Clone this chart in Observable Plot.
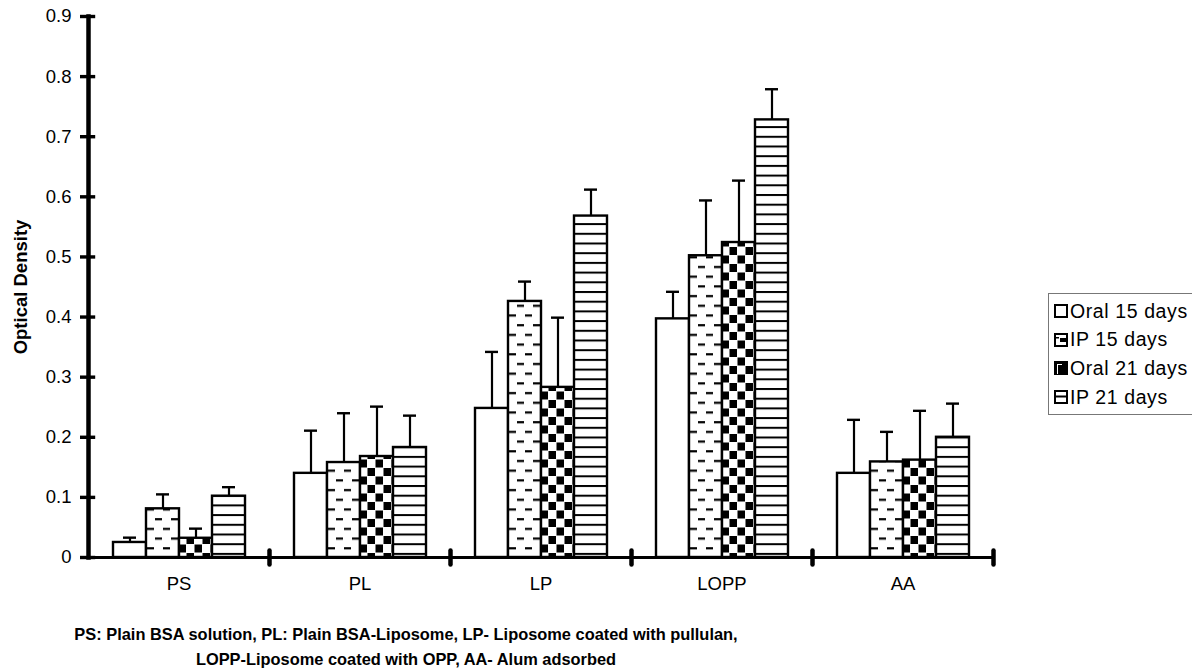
<!DOCTYPE html>
<html>
<head>
<meta charset="utf-8">
<script src="https://cdn.jsdelivr.net/npm/d3@7"></script>
<script src="https://cdn.jsdelivr.net/npm/@observablehq/plot@0.6"></script>
<style>
  body { margin: 0; background: #fff; font-family: "Liberation Sans", Arial, sans-serif; }
  #wrap { position: relative; width: 1192px; height: 671px; overflow: hidden; }
  #legend { position: absolute; left: 1048px; top: 293px; width: 220px; height: 122px; border: 1px solid #777; box-sizing: border-box; font-size: 19.5px; letter-spacing: 0.6px; }
  .item { position: absolute; left: 5px; height: 18px; display: flex; align-items: center; white-space: nowrap; }
  .item svg { margin-right: 2px; }
  #caption { position: absolute; left: 0; top: 622px; width: 812px; text-align: center; font-weight: bold; font-size: 16.4px; line-height: 25px; }
</style>
</head>
<body>
<div id="wrap">
  <div id="chart"></div>
  <div id="legend"></div>
  <div id="caption">PS: Plain BSA solution, PL: Plain BSA-Liposome, LP- Liposome coated with pullulan,<br>LOPP-Liposome coated with OPP, AA- Alum adsorbed</div>
</div>
<script>
// ---- data ----
const groups = ["PS", "PL", "LP", "LOPP", "AA"];
const series = ["Oral 15 days", "IP 15 days", "Oral 21 days", "IP 21 days"];
const oral15 = [0.025, 0.140, 0.248, 0.397, 0.140];
const ip15   = [0.081, 0.158, 0.426, 0.502, 0.159];
const oral21 = [0.032, 0.168, 0.283, 0.524, 0.162];
const ip21   = [0.102, 0.183, 0.568, 0.728, 0.200];
const oral15Err = [0.008, 0.071, 0.094, 0.045, 0.089];
const ip15Err   = [0.024, 0.082, 0.033, 0.092, 0.050];
const oral21Err = [0.016, 0.083, 0.116, 0.103, 0.082];
const ip21Err   = [0.015, 0.053, 0.044, 0.051, 0.056];
const yTicks = [0, 0.1, 0.2, 0.3, 0.4, 0.5, 0.6, 0.7, 0.8, 0.9];
const yLabel = "Optical Density";

const values = [oral15, ip15, oral21, ip21];
const errs = [oral15Err, ip15Err, oral21Err, ip21Err];
const fills = ["white", "url(#pDash)", "url(#pCheck)", "url(#pLines)"];

const data = [];
groups.forEach((g, i) => series.forEach((s, j) => {
  data.push({group: g, series: s, value: values[j][i], upper: values[j][i] + errs[j][i], fill: fills[j]});
}));

const vline = {draw(ctx) { ctx.moveTo(0, -7); ctx.lineTo(0, 7); }};

const font = '"Liberation Sans", Arial, sans-serif';
const W = 1192, mL = 86, mR = 197;
const facetWidth = (W - mL - mR) / groups.length;

const chart = Plot.plot({
  width: W,
  height: 600,
  marginLeft: mL,
  marginRight: mR,
  marginTop: 16,
  marginBottom: 43,
  style: {fontFamily: font, fontSize: "18.5px", color: "black", background: "white"},
  fx: {domain: groups, padding: 0},
  x: {domain: series, paddingInner: 0, paddingOuter: 0.73, axis: null},
  y: {domain: [0, 0.9]},
  color: {type: "identity"},
  marks: [
    Plot.barY(data, {fx: "group", x: "series", y: "value", fill: "fill", stroke: "black", strokeWidth: 2.4}),
    Plot.ruleX(data, {fx: "group", x: "series", y1: "value", y2: "upper", stroke: "black", strokeWidth: 2.2}),
    Plot.tickY(data, {fx: "group", x: "series", y: "upper", stroke: "black", strokeWidth: 2.4, insetLeft: 10, insetRight: 10}),
    Plot.ruleY([0], {stroke: "black", strokeWidth: 3.2}),
    Plot.dot([0], {frameAnchor: "bottom-right", symbol: vline, stroke: "black", fill: "none", strokeWidth: 4.5, strokeLinecap: "round"}),
    Plot.frame({anchor: "left", facetAnchor: "left", stroke: "black", strokeWidth: 4.5}),
    // crossing y ticks, drawn in the first facet only
    Plot.ruleY(yTicks, {y: d => d, fx: () => groups[0], insetLeft: -8, insetRight: facetWidth - 8, stroke: "black", strokeWidth: 3.4}),
    Plot.axisY({ticks: yTicks, tickSize: 0, tickPadding: 17, tickFormat: d => String(+d.toFixed(1)), fontSize: 18.5,
      label: yLabel, labelArrow: "none", labelAnchor: "center", labelOffset: 75}),
    Plot.axisFx({anchor: "bottom", tickSize: 0, tickPadding: 19, label: null, fontSize: 18.5})
  ]
});

d3.select(chart).insert("defs", ":first-child").html(`
  <pattern id="pDash" patternUnits="userSpaceOnUse" width="16" height="19.4">
    <rect width="16" height="19.4" fill="white"/>
    <rect x="1" y="4" width="7" height="2.2" fill="black"/>
    <rect x="9" y="13.7" width="7" height="2.2" fill="black"/>
  </pattern>
  <pattern id="pCheck" patternUnits="userSpaceOnUse" width="16" height="17">
    <rect width="16" height="17" fill="white"/>
    <rect x="0.5" y="0.5" width="7.5" height="8" fill="black"/>
    <rect x="8.5" y="9" width="7.5" height="8" fill="black"/>
  </pattern>
  <pattern id="pLines" patternUnits="userSpaceOnUse" width="8" height="9.7">
    <rect width="8" height="9.7" fill="white"/>
    <rect x="0" y="0" width="8" height="2" fill="black"/>
  </pattern>
`);
d3.select(chart).selectAll("[aria-label='y-axis label']").attr("font-weight", "bold");
document.getElementById("chart").appendChild(chart);

// legend
const swatches = [
  `<rect x="1" y="1" width="12" height="12" fill="white" stroke="black" stroke-width="2"/>`,
  `<rect x="1" y="1" width="12" height="12" fill="white" stroke="black" stroke-width="2"/><rect x="6" y="5" width="6" height="4" fill="black"/><rect x="1" y="4" width="4" height="1.5" fill="black"/>`,
  `<rect x="1" y="1" width="12" height="12" fill="black" stroke="black" stroke-width="2"/><rect x="3" y="3" width="5" height="10" fill="white"/><rect x="4" y="4" width="4" height="9" fill="black"/>`,
  `<rect x="1" y="1" width="12" height="12" fill="white" stroke="black" stroke-width="2"/><rect x="1" y="5.5" width="12" height="2" fill="black"/>`
];
const legend = d3.select("#legend");
series.forEach((s, i) => {
  const it = legend.append("div").attr("class", "item").style("top", (8 + i * 28.7) + "px");
  it.append("span").html(`<svg width="14" height="14" style="display:block">${swatches[i]}</svg>`);
  it.append("span").text(s);
});
</script>
</body>
</html>
